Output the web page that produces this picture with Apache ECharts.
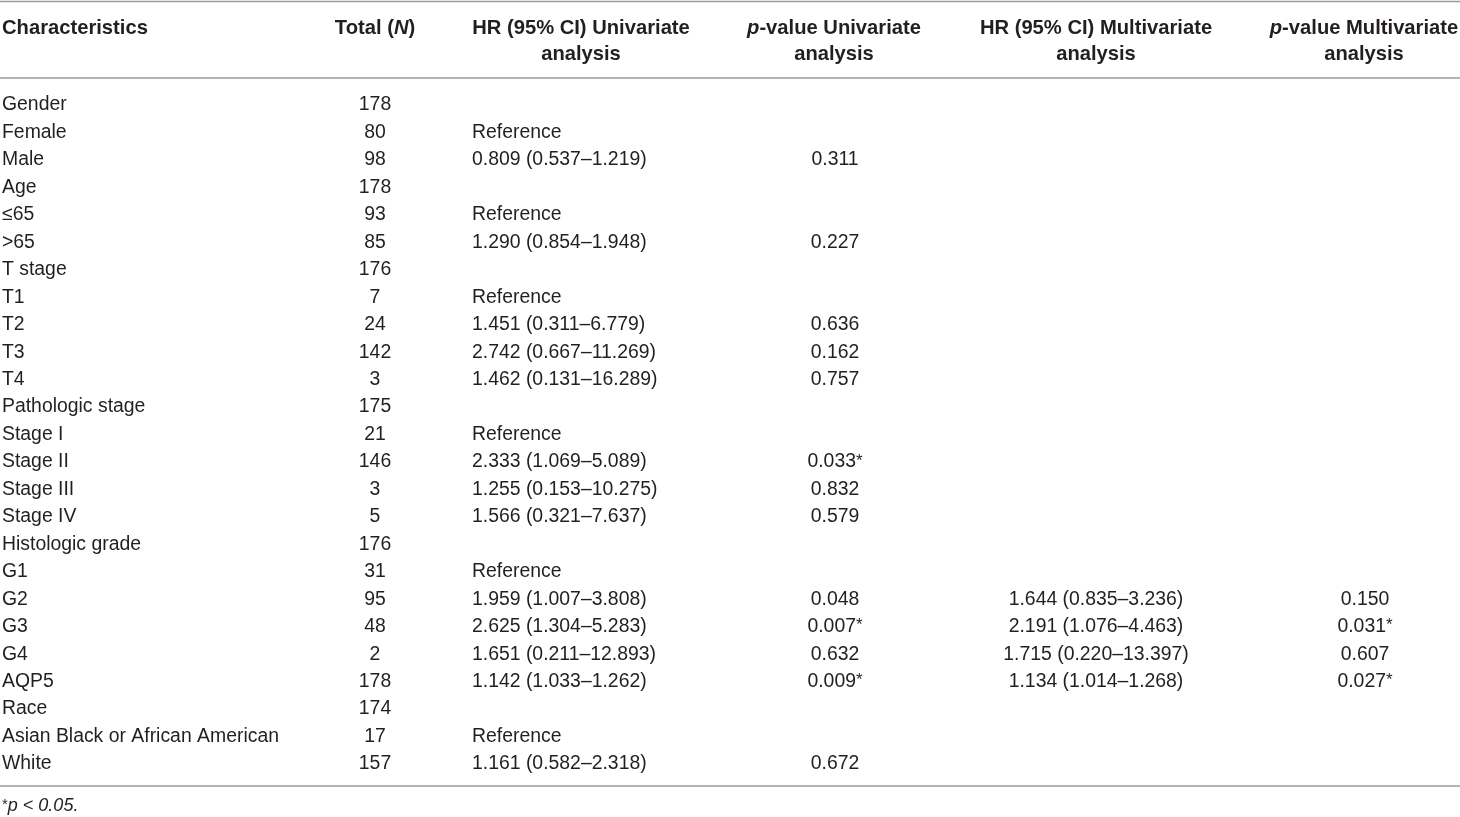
<!DOCTYPE html>
<html>
<head>
<meta charset="utf-8">
<script src="https://cdn.jsdelivr.net/npm/echarts@6/dist/echarts.min.js"></script>
<style>
  html, body { margin: 0; padding: 0; background: #fff; }
  #main { width: 1460px; height: 817px; }
</style>
</head>
<body>
<div id="main"></div>
<script>
// table data
var characteristics = ['Gender', 'Female', 'Male', 'Age', '≤65', '>65', 'T stage', 'T1', 'T2', 'T3', 'T4',
    'Pathologic stage', 'Stage I', 'Stage II', 'Stage III', 'Stage IV', 'Histologic grade', 'G1', 'G2', 'G3', 'G4',
    'AQP5', 'Race', 'Asian Black or African American', 'White'];
var totals = ['178', '80', '98', '178', '93', '85', '176', '7', '24', '142', '3',
    '175', '21', '146', '3', '5', '176', '31', '95', '48', '2',
    '178', '174', '17', '157'];
var hrUni = ['', 'Reference', '0.809 (0.537–1.219)', '', 'Reference', '1.290 (0.854–1.948)', '', 'Reference',
    '1.451 (0.311–6.779)', '2.742 (0.667–11.269)', '1.462 (0.131–16.289)',
    '', 'Reference', '2.333 (1.069–5.089)', '1.255 (0.153–10.275)', '1.566 (0.321–7.637)',
    '', 'Reference', '1.959 (1.007–3.808)', '2.625 (1.304–5.283)', '1.651 (0.211–12.893)',
    '1.142 (1.033–1.262)', '', 'Reference', '1.161 (0.582–2.318)'];
var pUni = ['', '', '0.311', '', '', '0.227', '', '', '0.636', '0.162', '0.757',
    '', '', '0.033*', '0.832', '0.579', '', '', '0.048', '0.007*', '0.632',
    '0.009*', '', '', '0.672'];
var hrMulti = ['', '', '', '', '', '', '', '', '', '', '',
    '', '', '', '', '', '', '', '1.644 (0.835–3.236)', '2.191 (1.076–4.463)', '1.715 (0.220–13.397)',
    '1.134 (1.014–1.268)', '', '', ''];
var pMulti = ['', '', '', '', '', '', '', '', '', '', '',
    '', '', '', '', '', '', '', '0.150', '0.031*', '0.607',
    '0.027*', '', '', ''];
var headers = ['Characteristics', 'Total ({i|N})', 'HR (95% CI) Univariate\nanalysis',
    '{i|p}-value Univariate\nanalysis', 'HR (95% CI) Multivariate\nanalysis', '{i|p}-value Multivariate\nanalysis'];
var footnote = '{s|*}p < 0.05.';

var TEXT = '#231f20';
var FONT = '"Liberation Sans", Arial, Helvetica, sans-serif';

// column anchors (x) and alignment
var colX = [2, 375, 472, 835, 1096, 1365];
var headX = [2, 375, 581, 834, 1096, 1364];
var columns = [characteristics, totals, hrUni, pUni, hrMulti, pMulti];
var aligns = ['left', 'center', 'left', 'center', 'center', 'center'];
var headAligns = ['left', 'center', 'center', 'center', 'center', 'center'];

var chart = echarts.init(document.getElementById('main'));

var series = [];
for (var c = 0; c < columns.length; c++) {
    var data = [];
    for (var r = 0; r < columns[c].length; r++) {
        if (columns[c][r] !== '') {
            data.push([colX[c], characteristics[r], columns[c][r]]);
        }
    }
    series.push({
        type: 'scatter',
        symbolSize: 0,
        silent: true,
        itemStyle: { opacity: 1 },
        data: data,
        label: {
            show: true,
            position: aligns[c] == 'left' ? 'right' : 'inside',
            distance: 0,
            color: TEXT,
            fontFamily: FONT,
            fontSize: 19.4,
            formatter: function (p) {
                return p.value[2].replace('*', '{s|*}');
            },
            rich: {
                s: { fontSize: 17, verticalAlign: 'top', lineHeight: 17, color: TEXT, fontFamily: FONT }
            }
        }
    });
}

var graphics = [];
// horizontal rules
[1.5, 78, 786].forEach(function (y) {
    graphics.push({
        type: 'line',
        shape: { x1: 0, y1: y, x2: 1460, y2: y },
        style: { stroke: '#9a9a9a', lineWidth: 1.6 }
    });
});
// header texts
for (var h = 0; h < headers.length; h++) {
    graphics.push({
        type: 'text',
        x: headX[h],
        y: 15,
        style: {
            text: headers[h],
            fill: TEXT,
            font: 'bold 20.2px ' + FONT,
            align: headAligns[h],
            verticalAlign: 'top',
            lineHeight: 26,
            rich: {
                i: { fontStyle: 'italic', fontWeight: 'bold', fontSize: 20.2, fontFamily: FONT, fill: TEXT, lineHeight: 26 }
            }
        }
    });
}
// footnote
graphics.push({
    type: 'text',
    x: 2,
    y: 806,
    style: {
        text: footnote,
        fill: TEXT,
        font: 'italic 18px ' + FONT,
        align: 'left',
        verticalAlign: 'middle',
        rich: {
            s: { fontSize: 15, fontStyle: 'normal', fontFamily: FONT, fill: TEXT, verticalAlign: 'top', lineHeight: 15 }
        }
    }
});

chart.setOption({
    animation: false,
    grid: { left: 0, right: 0, top: 91.3, bottom: 39.2 },
    xAxis: { type: 'value', min: 0, max: 1460, show: false },
    yAxis: { type: 'category', data: characteristics, inverse: true, show: false },
    graphic: graphics,
    series: series
});
</script>
</body>
</html>
